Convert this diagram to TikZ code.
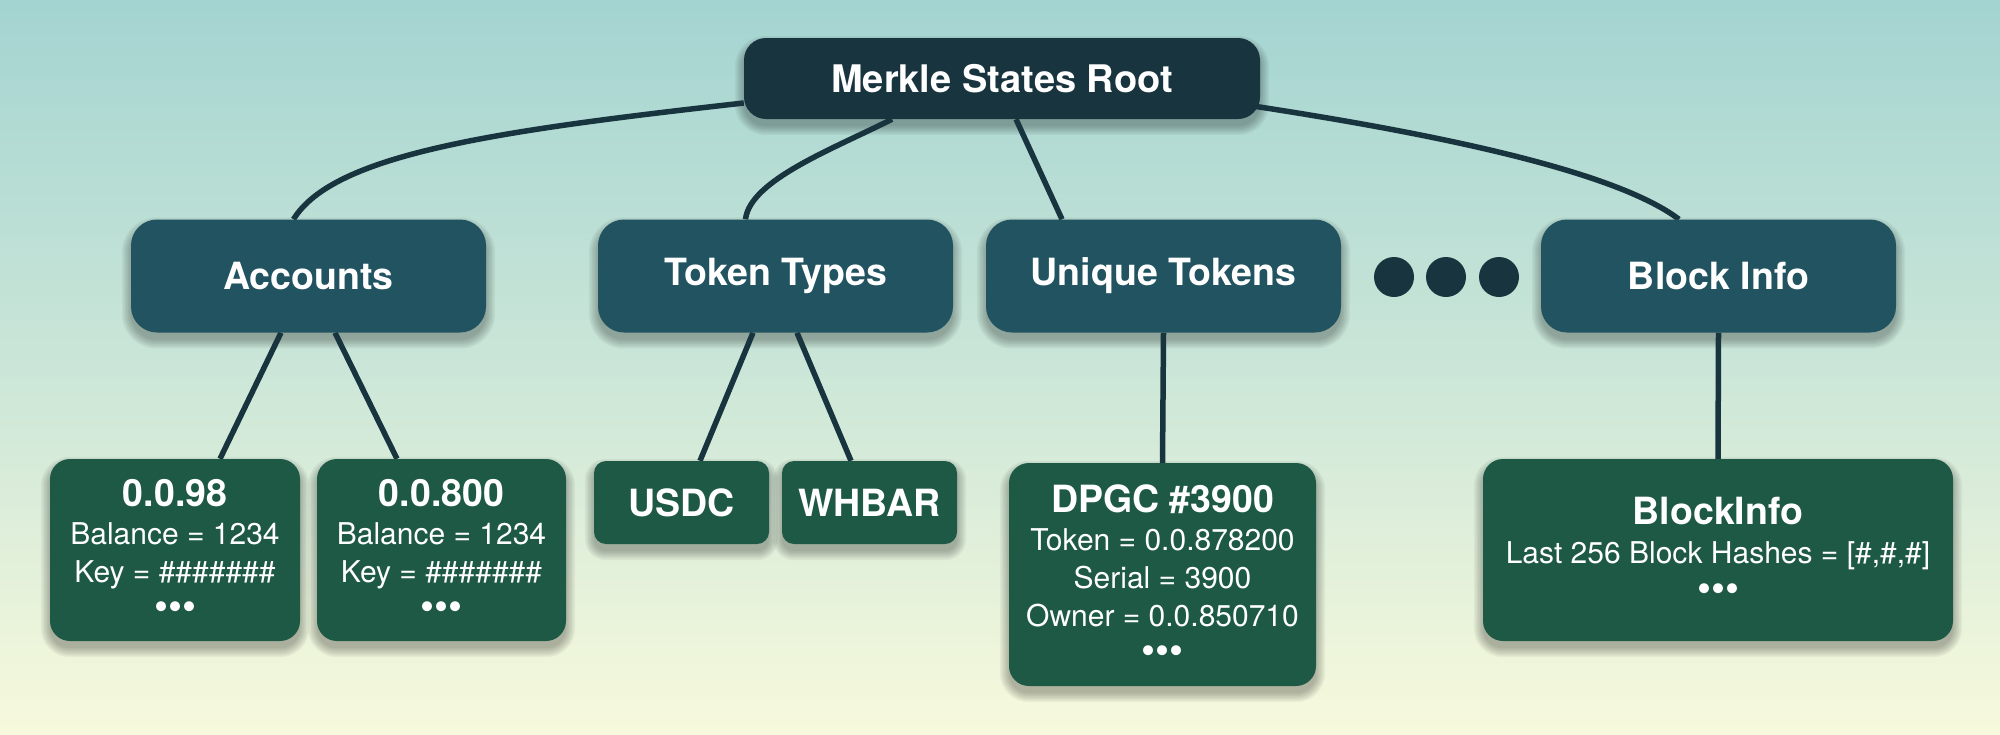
\documentclass[tikz,border=0pt]{standalone}
\usepackage{fontspec}
\setmainfont{TeX Gyre Heros}
\usetikzlibrary{calc}
\definecolor{bgtop}{RGB}{164,212,209}
\definecolor{bgmid}{RGB}{203,230,216}
\definecolor{bgbot}{RGB}{247,249,220}
\definecolor{rootcol}{RGB}{24,52,62}
\definecolor{midcol}{RGB}{34,83,97}
\definecolor{leafcol}{RGB}{30,89,70}
\definecolor{linecol}{RGB}{24,52,62}
\pgfdeclarelayer{bglayer}
\pgfdeclarelayer{shadowlayer}
\pgfdeclarelayer{edgelayer}
\pgfsetlayers{bglayer,shadowlayer,edgelayer,main}
\newcommand\boxtitle[1]{{\bfseries\fontsize{37.5pt}{38pt}\selectfont #1}}
\newcommand\moredots{{\fontsize{40pt}{38pt}\selectfont •••}}
\newcommand\boxshadow[2]{%
  \foreach \s in {0,1.5,...,9}{%
    \fill[black, opacity=0.045, rounded corners=#2+\s]
      ($(#1.north west)+(-\s,7-\s)$) rectangle ($(#1.south east)+(\s,7+\s)$);
  }%
}
\begin{document}
\begin{tikzpicture}[x=1pt,y=-1pt,
  box/.style={text=white, inner sep=0pt, align=center},
  rootbox/.style={box, fill=rootcol, minimum width=516pt, minimum height=81pt, rounded corners=22pt,
    font=\bfseries\fontsize{38pt}{40pt}\selectfont},
  midbox/.style={box, fill=midcol, minimum width=355pt, minimum height=113pt, rounded corners=26pt,
    font=\bfseries\fontsize{37.5pt}{40pt}\selectfont},
  leafbox/.style={box, fill=leafcol, rounded corners=20pt, font=\fontsize{30pt}{38pt}\selectfont},
  tagbox/.style={box, fill=leafcol, rounded corners=12pt, minimum width=175pt, minimum height=83pt,
    font=\bfseries\fontsize{37.5pt}{40pt}\selectfont},
  ddot/.style={circle, fill=linecol, minimum size=40pt, inner sep=0pt},
  edge/.style={draw=linecol, line width=5.5pt}
]
\useasboundingbox (0,0) rectangle (2000,734);
\begin{pgfonlayer}{bglayer}
  \foreach \i in {0,...,146}{
    \pgfmathtruncatemacro\p{\i<73 ? round(100*\i/73) : round(100*(\i-73)/73)}
    \ifnum\i<73
      \fill[bgmid!\p!bgtop] (0,{5*\i-0.5}) rectangle (2000,{5*\i+5.5});
    \else
      \fill[bgbot!\p!bgmid] (0,{5*\i-0.5}) rectangle (2000,{5*\i+5.5});
    \fi
  }
\end{pgfonlayer}

\node[rootbox] (root) at (1002,78.5) {Merkle States Root};
\node[midbox] (acc) at (308.5,276) {Accounts};
\node[midbox] (tt) at (775.5,276) {Token Types};
\node[midbox] (ut) at (1163.5,276) {Unique Tokens};
\node[midbox] (bi) at (1718.5,276) {Block Info};
\node[ddot] (d1) at (1394,277) {};
\node[ddot] (d2) at (1446,277) {};
\node[ddot] (d3) at (1499,277) {};

\node[leafbox, minimum width=250pt, minimum height=182pt] (a1) at (175,550)
  {\boxtitle{0.0.98}\\Balance = 1234\\Key = \#\#\#\#\#\#\#\\\moredots};
\node[leafbox, minimum width=249pt, minimum height=182pt] (a2) at (441.5,550)
  {\boxtitle{0.0.800}\\Balance = 1234\\Key = \#\#\#\#\#\#\#\\\moredots};
\node[tagbox] (usdc) at (681.5,502.5) {USDC};
\node[tagbox] (whbar) at (869.5,502.5) {WHBAR};
\node[leafbox, minimum width=307pt, minimum height=223pt] (dpgc) at (1162.5,574.5)
  {\boxtitle{DPGC \#3900}\\Token = 0.0.878200\\Serial = 3900\\Owner = 0.0.850710\\\moredots};
\node[leafbox, minimum width=470pt, minimum height=182pt, font=\fontsize{30pt}{39pt}\selectfont] (binfo) at (1718,550)
  {\boxtitle{BlockInfo}\\Last 256 Block Hashes = [\#,\#,\#]\\\moredots};

\begin{pgfonlayer}{shadowlayer}
  \boxshadow{root}{22}
  \boxshadow{acc}{26}
  \boxshadow{tt}{26}
  \boxshadow{ut}{26}
  \boxshadow{bi}{26}
  \boxshadow{a1}{20}
  \boxshadow{a2}{20}
  \boxshadow{usdc}{12}
  \boxshadow{whbar}{12}
  \boxshadow{dpgc}{20}
  \boxshadow{binfo}{20}
\end{pgfonlayer}

\begin{pgfonlayer}{edgelayer}
  \draw[edge] ($(root.west)+(0,24.5)$) .. controls +(-250,28) and +(40,-65) .. ($(acc.north)+(-15,0)$);
  \draw[edge] ($(root.south)+(-110,0)$) .. controls +(-57,29) and +(4.5,-39.5) .. ($(tt.north)+(-30,0)$);
  \draw[edge] ($(root.south)+(14,0)$) -- ($(ut.north)+(-101.5,0)$);
  \draw[edge] ($(root.east)+(-4,28)$) .. controls +(199,30.5) and +(-60,-45.5) .. ($(bi.north)+(-39.5,0)$);
  \draw[edge] ($(acc.south)+(-27.5,0)$) -- ($(a1.north)+(45,0)$);
  \draw[edge] ($(acc.south)+(26.5,0)$) -- ($(a2.north)+(-44.5,0)$);
  \draw[edge] ($(tt.south)+(-22.5,0)$) -- ($(usdc.north)+(18.5,0)$);
  \draw[edge] ($(tt.south)+(21.5,0)$) -- ($(whbar.north)+(-18.5,0)$);
  \draw[edge] (ut.south) -- (dpgc.north);
  \draw[edge] (bi.south) -- (binfo.north);
\end{pgfonlayer}
\end{tikzpicture}
\end{document}
